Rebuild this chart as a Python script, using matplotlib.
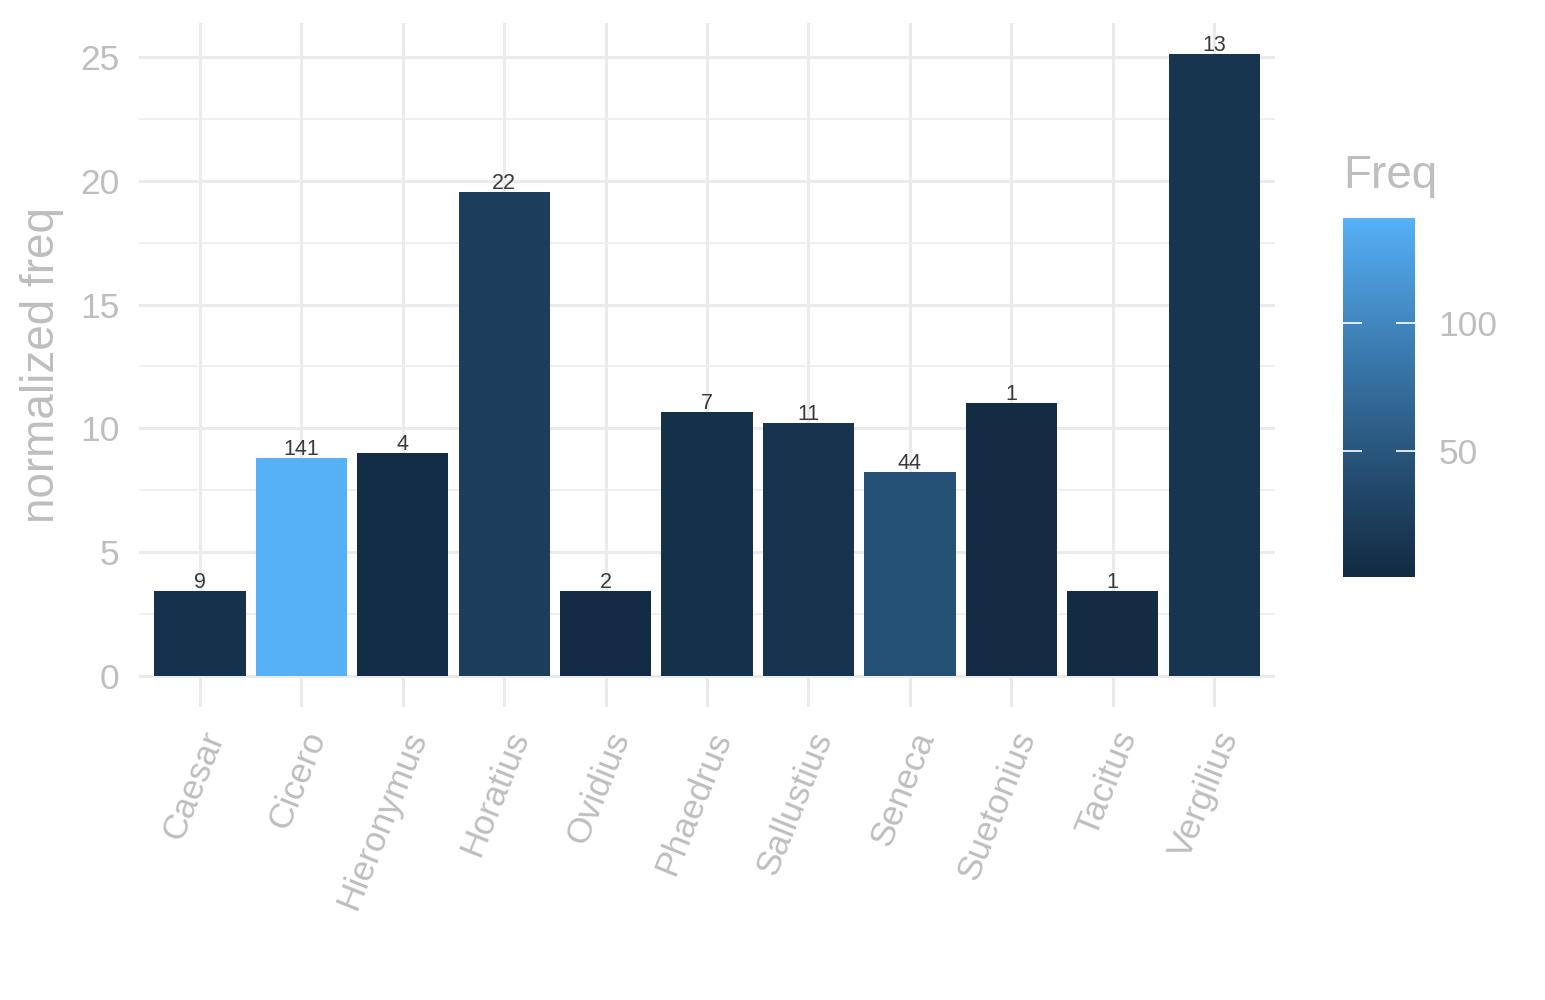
import numpy as np
import matplotlib
matplotlib.use("Agg")
import matplotlib.pyplot as plt
from matplotlib.colors import ListedColormap, Normalize

authors = ["Caesar", "Cicero", "Hieronymus", "Horatius", "Ovidius", "Phaedrus",
           "Sallustius", "Seneca", "Suetonius", "Tacitus", "Vergilius"]
norm_freq = [3.43, 8.80, 9.01, 19.55, 3.43, 10.66, 10.22, 8.24, 11.03, 3.43, 25.12]
freq = [9, 141, 4, 22, 2, 7, 11, 44, 1, 1, 13]
y_ticks = [0, 5, 10, 15, 20, 25]
cbar_ticks = [50, 100]

# ggplot2-like gradient (#132B43 -> #56B1F7) interpolated in Lab space
def srgb_to_lab(rgb):
    rgb = np.asarray(rgb, float)
    lin = np.where(rgb <= 0.04045, rgb / 12.92, ((rgb + 0.055) / 1.055) ** 2.4)
    M = np.array([[0.4124, 0.3576, 0.1805], [0.2126, 0.7152, 0.0722], [0.0193, 0.1192, 0.9505]])
    xyz = M @ lin / np.array([0.95047, 1.0, 1.08883])
    f = np.where(xyz > 0.008856, np.cbrt(xyz), 7.787 * xyz + 16 / 116)
    return np.array([116 * f[1] - 16, 500 * (f[0] - f[1]), 200 * (f[1] - f[2])])

def lab_to_srgb(lab):
    L, a, b = lab
    fy = (L + 16) / 116
    fx = fy + a / 500
    fz = fy - b / 200
    f = np.array([fx, fy, fz])
    xyz = np.where(f ** 3 > 0.008856, f ** 3, (f - 16 / 116) / 7.787) * np.array([0.95047, 1.0, 1.08883])
    Minv = np.array([[3.2406, -1.5372, -0.4986], [-0.9689, 1.8758, 0.0415], [0.0557, -0.2040, 1.0570]])
    lin = Minv @ xyz
    lin = np.clip(lin, 0, 1)
    rgb = np.where(lin <= 0.0031308, 12.92 * lin, 1.055 * lin ** (1 / 2.4) - 0.055)
    return np.clip(rgb, 0, 1)

def hex2rgb(h):
    h = h.lstrip("#")
    return np.array([int(h[i:i + 2], 16) / 255 for i in (0, 2, 4)])

lo = srgb_to_lab(hex2rgb("#132B43"))
hi = srgb_to_lab(hex2rgb("#56B1F7"))
cmap = ListedColormap([lab_to_srgb(lo + (hi - lo) * t) for t in np.linspace(0, 1, 256)])
vmin, vmax = min(freq), max(freq)
cnorm = Normalize(vmin, vmax)

plt.rcParams["font.family"] = ["Liberation Sans", "DejaVu Sans"]
txt_grey = "#BEBEBE"
grid_c = "#EBEBEB"

fig = plt.figure(figsize=(15.45, 10), dpi=100)
ax = fig.add_axes([139 / 1545, 1 - 707 / 1000, (1275 - 139) / 1545, (707 - 23) / 1000])

x = np.arange(len(authors))
colors = [cmap(cnorm(f)) for f in freq]
ax.bar(x, norm_freq, width=0.9, color=colors, zorder=3)
for xi, yi, f in zip(x, norm_freq, freq):
    ax.text(xi, yi - 0.08, str(f), ha="center", va="bottom", fontsize=15.5,
            color="#3a3a3a", zorder=4)

ymax = max(norm_freq)
ax.set_ylim(-0.05 * ymax, ymax * 1.05)
ax.set_xlim(-0.6, len(authors) - 0.4)
ax.set_yticks(y_ticks)
ax.set_yticks(np.arange(2.5, 26, 5), minor=True)
ax.set_xticks(x)
ax.set_xticklabels(authors, rotation=68, ha="right", va="top", rotation_mode="anchor")
ax.tick_params(axis="both", which="both", length=0, labelsize=25.5, labelcolor=txt_grey)
ax.tick_params(axis="y", pad=14)
ax.tick_params(axis="x", pad=14)
ax.grid(True, which="major", color=grid_c, linewidth=2.2, zorder=0)
ax.grid(True, which="minor", axis="y", color=grid_c, linewidth=1.1, zorder=0)
ax.set_axisbelow(True)
for s in ax.spines.values():
    s.set_visible(False)
ax.set_ylabel("normalized freq", fontsize=33, color=txt_grey, labelpad=12)

# colorbar
cax = fig.add_axes([1343 / 1545, 1 - 577 / 1000, 72 / 1545, 359 / 1000])
grad = np.linspace(vmin, vmax, 300).reshape(-1, 1)
cax.imshow(grad, aspect="auto", cmap=cmap, norm=cnorm, origin="lower",
           extent=[0, 1, vmin, vmax])
cax.set_xlim(0, 1)
cax.set_ylim(vmin, vmax)
cax.set_xticks([])
cax.set_yticks(cbar_ticks)
cax.yaxis.tick_right()
cax.tick_params(axis="y", which="both", direction="in", left=True, right=True,
                length=14, width=1.2, color="white", labelcolor=txt_grey,
                labelsize=25.5, pad=17)
for s in cax.spines.values():
    s.set_visible(False)
fig.text(1343 / 1545, 1 - 176 / 1000, "Freq", fontsize=33, color=txt_grey,
         ha="left", va="center")

fig.savefig("out.png", dpi=100, facecolor="white")
